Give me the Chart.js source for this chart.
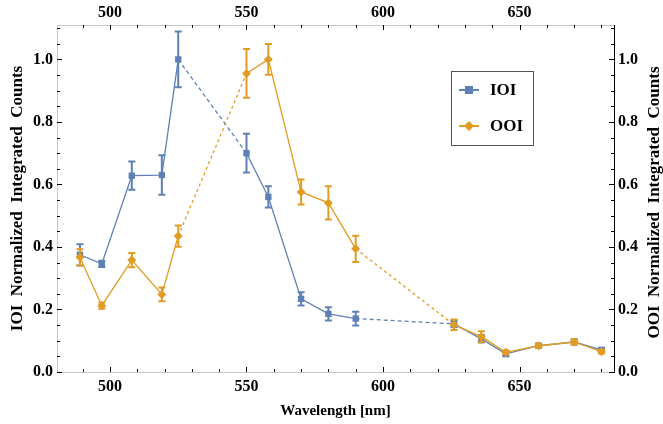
<!DOCTYPE html>
<html>
<head>
<meta charset="utf-8">
<script src="https://cdn.jsdelivr.net/npm/chart.js@4.4.1/dist/chart.umd.min.js"></script>
<style>
  body { margin: 0; background: #fff; }
  #wrap { width: 663px; height: 424px; }
</style>
</head>
<body>
<div id="wrap"><canvas id="myChart" width="663" height="424"></canvas></div>
<script>
// wavelengths in nm
const wavelengths = [489, 497, 508, 519, 525, 550, 558, 570, 580, 590, 626, 636, 645, 657, 670, 680]
const ioiValues = [0.375, 0.346, 0.628, 0.630, 1.0, 0.70, 0.56, 0.234, 0.186, 0.171, 0.154, 0.106, 0.058, 0.084, 0.096, 0.071]
const ioiErrors = [0.034, 0.010, 0.045, 0.063, 0.089, 0.062, 0.034, 0.021, 0.021, 0.022, 0.010, 0.012, 0.008, 0.006, 0.008, 0.006]
const ooiValues = [0.367, 0.212, 0.358, 0.248, 0.435, 0.955, 1.0, 0.576, 0.541, 0.394, 0.151, 0.113, 0.063, 0.084, 0.096, 0.065]
const ooiErrors = [0.026, 0.010, 0.023, 0.022, 0.034, 0.078, 0.049, 0.040, 0.053, 0.042, 0.017, 0.017, 0.006, 0.006, 0.008, 0.006]
// segments drawn dashed start at these indices
const dashedAfter = [4, 9]
const xTickValues = [500, 550, 600, 650]
const yTickValues = [0, 0.2, 0.4, 0.6, 0.8, 1.0]

const blue = '#5e81b5'
const orange = '#e19c24'
const serif = '"Liberation Serif", "Times New Roman", serif'

Chart.defaults.font.family = serif
Chart.defaults.font.weight = 'bold'
Chart.defaults.font.size = 16
Chart.defaults.color = '#000'

const xMin = 480.6, xMax = 684.6
const yMin = 0, yMax = 1.11

const toPoints = (vals) => wavelengths.map((w, i) => ({ x: w, y: vals[i] }))

// error bars, drawn right after each dataset
const errorBars = {
    id: 'errorBars',
    afterDatasetDraw(chart, args) {
        const ds = chart.data.datasets[args.index]
        const meta = args.meta
        const ys = chart.scales[meta.yAxisID]
        const ctx = chart.ctx
        ctx.save()
        ctx.strokeStyle = ds.borderColor
        ctx.lineWidth = 2
        meta.data.forEach((pt, i) => {
            const v = ds.data[i].y
            const e = ds.errors[i]
            const top = ys.getPixelForValue(v + e)
            const bot = ys.getPixelForValue(v - e)
            ctx.beginPath()
            ctx.moveTo(pt.x, top); ctx.lineTo(pt.x, bot)
            ctx.moveTo(pt.x - 3.5, top); ctx.lineTo(pt.x + 3.5, top)
            ctx.moveTo(pt.x - 3.5, bot); ctx.lineTo(pt.x + 3.5, bot)
            ctx.stroke()
        })
        ctx.restore()
    }
}

// inward frame ticks, legend box and right axis title
const extras = {
    id: 'extras',
    afterDraw(chart) {
        const { ctx, chartArea: a, scales } = chart
        ctx.save()
        ctx.strokeStyle = '#000'
        ctx.lineWidth = 1
        ctx.beginPath()
        for (let v = 490; v <= 680; v += 10) {
            const px = Math.round(scales.x.getPixelForValue(v)) + 0.5
            const len = v % 50 === 0 ? 5 : 3
            ctx.moveTo(px, a.bottom); ctx.lineTo(px, a.bottom - len)
            ctx.moveTo(px, a.top); ctx.lineTo(px, a.top + len)
        }
        for (let i = 0; i <= 22; i++) {
            const v = i * 0.05
            const py = Math.round(scales.y.getPixelForValue(v)) + 0.5
            const len = i % 4 === 0 ? 5 : 3
            ctx.moveTo(a.left, py); ctx.lineTo(a.left + len, py)
            ctx.moveTo(a.right, py); ctx.lineTo(a.right - len, py)
        }
        ctx.stroke()

        // legend
        ctx.strokeStyle = '#555'
        ctx.strokeRect(451.5, 71.5, 82, 74)
        const entries = [
            { label: 'IOI', color: blue, y: 90, shape: 'rect' },
            { label: 'OOI', color: orange, y: 126, shape: 'diamond' }
        ]
        ctx.font = 'bold 17px ' + serif
        ctx.textBaseline = 'middle'
        entries.forEach((en) => {
            ctx.strokeStyle = en.color
            ctx.fillStyle = en.color
            ctx.lineWidth = 2
            ctx.beginPath()
            ctx.moveTo(459, en.y); ctx.lineTo(479, en.y)
            ctx.stroke()
            ctx.beginPath()
            if (en.shape === 'rect') {
                ctx.rect(465, en.y - 4, 8, 8)
            } else {
                ctx.moveTo(469, en.y - 5); ctx.lineTo(474, en.y)
                ctx.lineTo(469, en.y + 5); ctx.lineTo(464, en.y)
                ctx.closePath()
            }
            ctx.fill()
            ctx.fillStyle = '#000'
            ctx.textAlign = 'left'
            ctx.fillText(en.label, 490, en.y + 1)
        })

        // right title, reading bottom to top
        ctx.translate(655, (a.top + a.bottom) / 2 + 4)
        ctx.rotate(-Math.PI / 2)
        ctx.textAlign = 'center'
        ctx.textBaseline = 'middle'
        ctx.fillStyle = '#000'
        ctx.font = 'bold 17px ' + serif
        ctx.fillText('OOI  Normalized  Integrated  Counts', 0, 0)
        ctx.restore()
    }
}

const fixedTicks = (vals) => (scale) => { scale.ticks = vals.map((v) => ({ value: v })) }

const ctx = document.getElementById('myChart')

new Chart(ctx, {
    type: 'line',
    data: {
        datasets: [
            {
                label: 'IOI',
                data: toPoints(ioiValues),
                errors: ioiErrors,
                borderColor: blue,
                backgroundColor: blue,
                borderWidth: 1.3,
                pointStyle: 'rect',
                pointRadius: 4.5,
                pointBorderWidth: 0,
                yAxisID: 'y',
                xAxisID: 'x',
                order: 1,
                segment: {
                    borderDash: (c) => dashedAfter.includes(c.p0DataIndex) ? [4, 3] : undefined
                }
            },
            {
                label: 'OOI',
                data: toPoints(ooiValues),
                errors: ooiErrors,
                borderColor: orange,
                backgroundColor: orange,
                borderWidth: 1.3,
                pointStyle: 'rectRot',
                pointRadius: 4.5,
                pointBorderWidth: 0,
                yAxisID: 'y2',
                xAxisID: 'x',
                order: 0,
                segment: {
                    borderDash: (c) => dashedAfter.includes(c.p0DataIndex) ? [3, 3] : undefined
                }
            }
        ]
    },
    options: {
        responsive: false,
        animation: false,
        layout: { padding: 0 },
        plugins: {
            legend: { display: false },
            tooltip: { enabled: false }
        },
        scales: {
            x: {
                type: 'linear',
                position: 'bottom',
                min: xMin,
                max: xMax,
                afterBuildTicks: fixedTicks(xTickValues),
                afterFit: (s) => { s.height = 52 },
                grid: { drawOnChartArea: false, drawTicks: false },
                border: { color: '#c8c8c8' },
                ticks: { padding: 5, font: { size: 16 } },
                title: { display: true, text: 'Wavelength [nm]', font: { size: 15 }, padding: { top: 0, bottom: 4 } }
            },
            x2: {
                type: 'linear',
                position: 'top',
                min: xMin,
                max: xMax,
                afterBuildTicks: fixedTicks(xTickValues),
                afterFit: (s) => { s.height = 25 },
                grid: { drawOnChartArea: false, drawTicks: false },
                border: { color: '#c8c8c8' },
                ticks: { padding: 3, font: { size: 16 } }
            },
            y: {
                type: 'linear',
                position: 'left',
                min: yMin,
                max: yMax,
                afterBuildTicks: fixedTicks(yTickValues),
                afterFit: (s) => { s.width = 57 },
                grid: { drawOnChartArea: false, drawTicks: false },
                border: { color: '#c8c8c8' },
                ticks: { padding: 4, font: { size: 16 }, callback: (v) => v.toFixed(1) },
                title: { display: true, text: 'IOI  Normalized  Integrated  Counts', font: { size: 17 }, padding: { top: 7, bottom: 0 } }
            },
            y2: {
                type: 'linear',
                position: 'right',
                min: yMin,
                max: yMax,
                afterBuildTicks: fixedTicks(yTickValues),
                afterFit: (s) => { s.width = 49 },
                grid: { drawOnChartArea: false, drawTicks: false },
                border: { color: '#000' },
                ticks: { padding: 4, font: { size: 16 }, callback: (v) => v.toFixed(1) }
            }
        }
    },
    plugins: [errorBars, extras]
})
</script>
</body>
</html>
